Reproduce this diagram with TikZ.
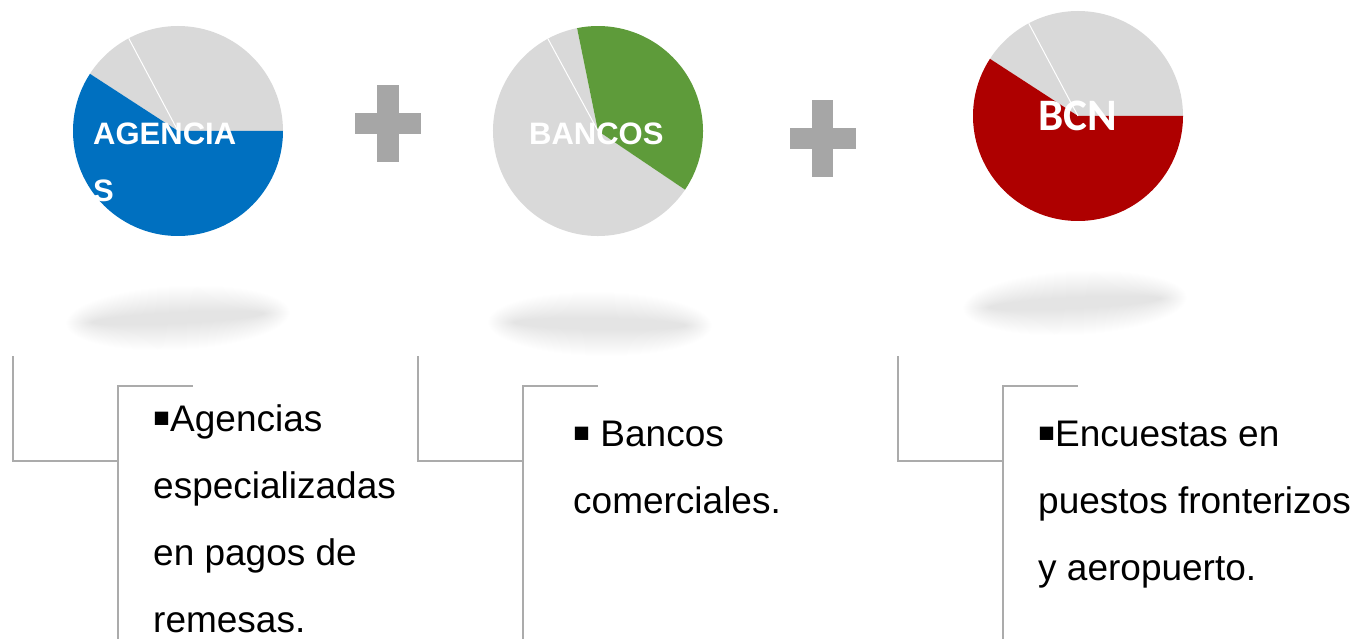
\documentclass[tikz,border=0pt]{standalone}
\usepackage{fontspec}
\setmainfont{Liberation Sans}
\newfontfamily\carlito{Carlito}
\usepackage{tikz}
\usetikzlibrary{positioning}

\definecolor{piegray}{HTML}{D9D9D9}
\definecolor{agblue}{HTML}{0070C0}
\definecolor{bkgreen}{HTML}{5E9B3A}
\definecolor{bcnred}{HTML}{AE0000}
\definecolor{plusgray}{HTML}{A6A6A6}
\definecolor{linegray}{HTML}{ABABAB}

\newcommand{\sqbul}{\makebox[17bp][l]{\hspace{-1bp}\raisebox{-4bp}{\scalebox{1.45}{▪}}}}

\begin{document}
\begin{tikzpicture}[x=1bp, y=1bp,
    pielabel/.style={text=white, inner sep=0pt, anchor=base west,
        font=\bfseries\fontsize{31bp}{37bp}\selectfont},
    bodytext/.style={text=black, inner sep=0pt, anchor=base west,
        font=\fontsize{37bp}{44bp}\selectfont},
    bracket/.style={draw=linegray, line width=2bp},
    plusbar/.style={fill=plusgray},
    sep/.style={draw=white, line width=1bp}]
    \useasboundingbox (0,0) rectangle (1356,-639);

    \coordinate (p1) at (178,-131);
    \coordinate (p2) at (598,-131);
    \coordinate (p3) at (1078,-116);

    % shadows under the pies
    \foreach \cx/\cy/\rot/\op in {178/-318/3/0.0045, 600/-324/-1/0.0055, 1075/-303/3/0.0045} {
        \foreach \k in {0,1,...,26}
            \fill[black, fill opacity=\op, rotate around={\rot:(\cx,\cy)}]
                (\cx,\cy) ellipse ({112-\k} and {32-\k});
    }

    % pie 1
    \fill[piegray] (p1) -- ++(0:105) arc[start angle=0, end angle=147, radius=105] -- cycle;
    \fill[agblue] (p1) -- ++(147:105) arc[start angle=147, end angle=360, radius=105] -- cycle;
    \draw[sep] (p1) -- ++(118:105);
    \node[pielabel] (ag1) at (93,-145) {AGENCIA};
    \node[pielabel] (ag2) at (93,-202) {S};

    % pie 2
    \fill[piegray] (p2) -- ++(101.5:105) arc[start angle=101.5, end angle=326, radius=105] -- cycle;
    \fill[bkgreen] (p2) -- ++(-34:105) arc[start angle=-34, end angle=101.5, radius=105] -- cycle;
    \draw[sep] (p2) -- ++(118.5:105);
    \node[pielabel] (bk) at (529,-145) {BANCOS};

    % pie 3
    \fill[piegray] (p3) -- ++(0:105) arc[start angle=0, end angle=147, radius=105] -- cycle;
    \fill[bcnred] (p3) -- ++(147:105) arc[start angle=147, end angle=360, radius=105] -- cycle;
    \draw[sep] (p3) -- ++(118:105);
    \node[pielabel, font=\carlito\bfseries\fontsize{45bp}{50bp}\selectfont] (bcn) at (1038,-131) {BCN};

    % plus signs
    \fill[plusbar] (377,-85) rectangle (399,-162);
    \fill[plusbar] (355,-113) rectangle (421,-134);
    \fill[plusbar] (812,-100) rectangle (833,-177);
    \fill[plusbar] (790,-128) rectangle (856,-149);

    % brackets
    \foreach \x in {13, 418, 898} {
        \draw[bracket] (\x,-356) |- (\x+105,-461);
        \draw[bracket] (\x+105,-639) |- (\x+180,-386);
    }

    \node[bodytext] (ta1) at (153,-431) {\sqbul Agencias};
    \node[bodytext] (ta2) at (153,-498) {especializadas};
    \node[bodytext] (ta3) at (153,-565) {en pagos de};
    \node[bodytext] (ta4) at (153,-632) {remesas.};

    \node[bodytext] (tb1) at (573,-446) {\sqbul\ Bancos};
    \node[bodytext] (tb2) at (573,-513) {comerciales.};

    \node[bodytext] (tc1) at (1038,-446) {\sqbul Encuestas en};
    \node[bodytext] (tc2) at (1038,-513) {puestos fronterizos};
    \node[bodytext] (tc3) at (1038,-580) {y aeropuerto.};
\end{tikzpicture}
\end{document}
